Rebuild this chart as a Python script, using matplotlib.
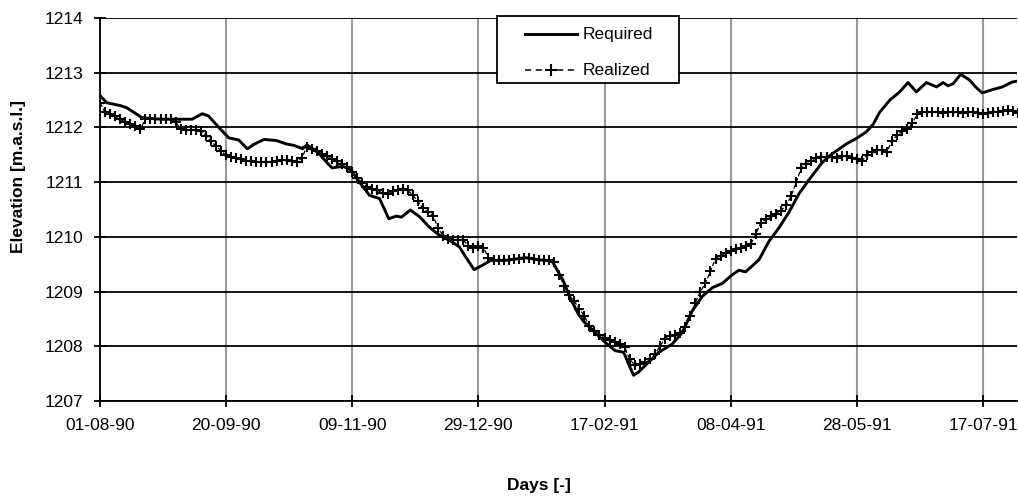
import numpy as np
import matplotlib.pyplot as plt
from matplotlib.lines import Line2D
from matplotlib.patches import Rectangle

plt.rcParams['font.family'] = ['Liberation Sans', 'DejaVu Sans']

# days counted from 01-08-90
tick_days = [0, 50, 100, 150, 200, 250, 300, 350]
tick_labels = ['01-08-90', '20-09-90', '09-11-90', '29-12-90',
               '17-02-91', '08-04-91', '28-05-91', '17-07-91']

# required reservoir level (breakpoints of the rule curve)
req_day = [0, 2.7, 8, 10.6, 16.6, 24, 36.5, 40.5, 43, 46.5,
           51, 55, 58.4, 61, 65, 70, 73.7, 77, 80.3, 82,
           86.5, 90.3, 92, 96.3, 99.6, 102.2, 106.8, 110.8, 114.5, 117.4,
           119.5, 123, 126.6, 130.5, 134.5, 138.4, 142.4, 145, 148.3, 151.6,
           154.9, 160.8, 168.7, 174, 179.2, 180.4, 183.7, 186.3, 189.7, 191.6,
           195.6, 200.3, 204.2, 207.6, 209.5, 211.5, 213.5, 217.5, 221.5, 226.8,
           230.8, 234.7, 238.7, 242.7, 246.7, 250.7, 253.3, 255.9, 261.2, 265.2,
           269.2, 273.1, 277.1, 281, 286.3, 290.3, 295.9, 299.9, 303.8, 306.5,
           309.1, 313.1, 317, 320.3, 323.6, 327.6, 331.6, 334.2, 336.2, 338.2,
           341.2, 344.6, 347.1, 349.7, 353.7, 357.7, 361.6, 364]
req_val = [1212.58, 1212.45, 1212.40, 1212.36, 1212.18, 1212.15, 1212.15, 1212.25, 1212.21, 1212.03,
           1211.81, 1211.77, 1211.61, 1211.69, 1211.78, 1211.76, 1211.70, 1211.67, 1211.61, 1211.68,
           1211.54, 1211.34, 1211.26, 1211.29, 1211.22, 1211.04, 1210.76, 1210.70, 1210.33, 1210.38,
           1210.36, 1210.49, 1210.37, 1210.18, 1210.03, 1209.94, 1209.82, 1209.63, 1209.40, 1209.48,
           1209.57, 1209.57, 1209.62, 1209.58, 1209.56, 1209.46, 1209.19, 1208.89, 1208.58, 1208.46,
           1208.28, 1208.07, 1207.92, 1207.89, 1207.68, 1207.47, 1207.53, 1207.71, 1207.89, 1208.04,
           1208.25, 1208.64, 1208.91, 1209.07, 1209.15, 1209.31, 1209.39, 1209.36, 1209.58, 1209.92,
           1210.17, 1210.45, 1210.79, 1211.04, 1211.36, 1211.52, 1211.70, 1211.80, 1211.92, 1212.06,
           1212.28, 1212.50, 1212.65, 1212.82, 1212.65, 1212.82, 1212.74, 1212.82, 1212.76, 1212.80,
           1212.97, 1212.87, 1212.74, 1212.63, 1212.69, 1212.74, 1212.83, 1212.85]

# realized level, every second day
real_val = [1212.45, 1212.28, 1212.24, 1212.20, 1212.15, 1212.10, 1212.06, 1212.02, 1211.97, 1212.15,
            1212.15, 1212.16, 1212.15, 1212.15, 1212.16, 1212.10, 1211.97, 1211.96, 1211.96, 1211.95,
            1211.94, 1211.85, 1211.75, 1211.66, 1211.57, 1211.49, 1211.46, 1211.44, 1211.42, 1211.38,
            1211.38, 1211.37, 1211.37, 1211.36, 1211.37, 1211.38, 1211.40, 1211.41, 1211.39, 1211.37,
            1211.44, 1211.65, 1211.61, 1211.57, 1211.52, 1211.47, 1211.42, 1211.38, 1211.34, 1211.28,
            1211.18, 1211.08, 1210.99, 1210.91, 1210.88, 1210.85, 1210.80, 1210.78, 1210.83, 1210.86,
            1210.87, 1210.85, 1210.76, 1210.65, 1210.52, 1210.46, 1210.39, 1210.16, 1210.02, 1209.96,
            1209.95, 1209.94, 1209.94, 1209.84, 1209.80, 1209.84, 1209.80, 1209.62, 1209.57, 1209.57,
            1209.57, 1209.58, 1209.59, 1209.60, 1209.62, 1209.61, 1209.60, 1209.58, 1209.57, 1209.57,
            1209.54, 1209.31, 1209.10, 1208.93, 1208.82, 1208.69, 1208.55, 1208.37, 1208.28, 1208.21,
            1208.15, 1208.11, 1208.08, 1208.05, 1207.98, 1207.76, 1207.66, 1207.67, 1207.71, 1207.76,
            1207.85, 1208.01, 1208.14, 1208.18, 1208.21, 1208.24, 1208.35, 1208.55, 1208.80, 1209.00,
            1209.15, 1209.38, 1209.60, 1209.65, 1209.70, 1209.75, 1209.77, 1209.79, 1209.83, 1209.87,
            1210.06, 1210.26, 1210.32, 1210.38, 1210.42, 1210.48, 1210.58, 1210.75, 1211.00, 1211.26,
            1211.33, 1211.38, 1211.44, 1211.46, 1211.46, 1211.46, 1211.45, 1211.47, 1211.47, 1211.45,
            1211.43, 1211.38, 1211.50, 1211.56, 1211.59, 1211.58, 1211.56, 1211.76, 1211.86, 1211.93,
            1211.97, 1212.08, 1212.24, 1212.29, 1212.28, 1212.28, 1212.29, 1212.27, 1212.28, 1212.29,
            1212.28, 1212.27, 1212.28, 1212.29, 1212.27, 1212.25, 1212.27, 1212.28, 1212.29, 1212.30,
            1212.32, 1212.30, 1212.27]
real_day = np.arange(len(real_val)) * 2

fig = plt.figure(figsize=(10.18, 4.98), dpi=100)
ax = fig.add_axes([100 / 1018, 1 - 401 / 498, 917 / 1018, 383 / 498])

ax.plot(req_day, req_val, color='black', lw=2.1, ls='-', zorder=3)
ax.plot(real_day, real_val, color='black', lw=0.9, ls='--', marker='+',
        markersize=7.5, markeredgewidth=1.5, zorder=3)

ax.set_xlim(0, 363.5)
ax.set_ylim(1207, 1214)
ax.set_xticks(tick_days)
ax.set_xticklabels(tick_labels)
ax.set_yticks(np.arange(1207, 1215, 1))

ax.grid(axis='y', color='black', lw=1.3)
ax.grid(axis='x', color='#9a9a9a', lw=1.5)
ax.set_axisbelow(True)

for s in ['top', 'right']:
    ax.spines[s].set_visible(False)
for s in ['left', 'bottom']:
    ax.spines[s].set_linewidth(1.3)
ax.tick_params(axis='both', direction='inout', length=8, width=1.3,
               labelsize=12.5, colors='black')
ax.tick_params(axis='y', pad=8)
ax.tick_params(axis='x', pad=8)

ax.set_ylabel('Elevation [m.a.s.l.]', fontsize=12.5, fontweight='bold')
ax.set_xlabel('Days [-]', fontsize=12.5, fontweight='bold')
ax.yaxis.set_label_coords(-0.081, 0.585)
ax.xaxis.set_label_coords(0.479, -0.2)

# Excel-style legend box, drawn by hand so the padding can be set freely
box_x0, box_x1, box_y0, box_y1 = 0.433, 0.631, 0.830, 1.005
ax.add_patch(Rectangle((box_x0, box_y0), box_x1 - box_x0, box_y1 - box_y0,
                       transform=ax.transAxes, facecolor='white',
                       edgecolor='black', lw=1.3, clip_on=False, zorder=5))
h_x0, h_x1, txt_x = 0.4635, 0.5202, 0.5267
y_req, y_real = 0.958, 0.864
ax.add_line(Line2D([h_x0, h_x1], [y_req, y_req], transform=ax.transAxes,
                   color='black', lw=2.1, clip_on=False, zorder=6))
ax.add_line(Line2D([h_x0, h_x1], [y_real, y_real], transform=ax.transAxes,
                   color='black', lw=1.1, ls=(0, (4, 3)), clip_on=False, zorder=6))
ax.add_line(Line2D([(h_x0 + h_x1) / 2], [y_real], transform=ax.transAxes,
                   color='black', ls='none', marker='+', markersize=9,
                   markeredgewidth=1.5, clip_on=False, zorder=6))
ax.text(txt_x, y_req, 'Required', transform=ax.transAxes, fontsize=12.5,
        va='center', ha='left', zorder=6)
ax.text(txt_x, y_real, 'Realized', transform=ax.transAxes, fontsize=12.5,
        va='center', ha='left', zorder=6)

fig.savefig('out.png', dpi=100)
